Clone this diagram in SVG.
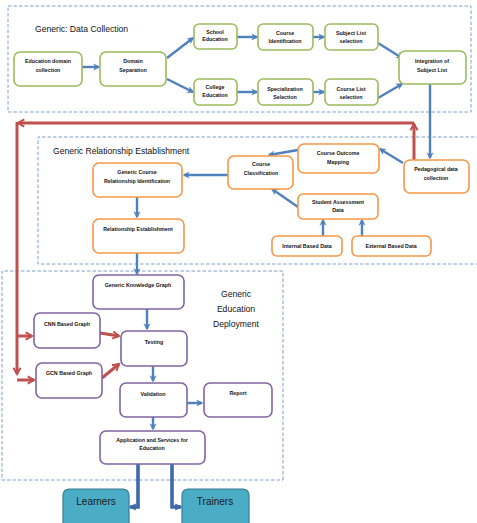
<svg xmlns="http://www.w3.org/2000/svg" width="477" height="523" viewBox="0 0 477 523">
<defs>
<style>
.bg{fill:#fff}
.dash{fill:none;stroke:#7fa0c9;stroke-width:1;stroke-dasharray:3.5,2}
.g{fill:#fff;stroke:#9bbb59;stroke-width:1.6}
.o{fill:#fff;stroke:#f79646;stroke-width:1.6}
.p{fill:#fff;stroke:#8064a2;stroke-width:1.6}
.t{fill:#4bacc6;stroke:#357d91;stroke-width:1.2}
.lbl{font-family:"Liberation Sans",Arial,sans-serif;font-size:5.3px;font-weight:bold;fill:#111;text-anchor:middle}
.title{font-family:"Liberation Sans",Arial,sans-serif;font-size:8.6px;fill:#111}
.big{font-family:"Liberation Sans",Arial,sans-serif;font-size:10px;fill:#1a1a1a;text-anchor:middle}
.b{fill:none;stroke:#4f81bd;stroke-width:2.4;marker-end:url(#ab)}
.r{fill:none;stroke:#c0504d;stroke-width:3;marker-end:url(#ar)}
.bt{fill:none;stroke:#3d6aa8;stroke-width:3.6;marker-end:url(#ab2)}
</style>
<marker id="ab" viewBox="0 0 10 10" refX="8" refY="5" markerWidth="3" markerHeight="3.2" orient="auto" markerUnits="strokeWidth">
<path d="M0,0 L10,5 L0,10 L3,5 z" fill="#4f81bd"/>
</marker>
<marker id="ab2" viewBox="0 0 10 10" refX="8" refY="5" markerWidth="2" markerHeight="2" orient="auto" markerUnits="strokeWidth">
<path d="M0,0 L10,5 L0,10 z" fill="#3d6aa8"/>
</marker>
<marker id="ar" viewBox="0 0 10 10" refX="8" refY="5" markerWidth="3" markerHeight="3.4" orient="auto" markerUnits="strokeWidth">
<path d="M1,1 L8,5 L1,9" fill="none" stroke="#c0504d" stroke-width="2.2"/>
</marker>
</defs>
<rect class="bg" x="0" y="0" width="477" height="523"/>

<g id="groups">
<rect class="dash" x="8" y="6" width="463" height="106"/>
<path class="dash" d="M480,137 H38 V264 H480"/>
<path class="dash" d="M283,480 V271 H2 V480 H283"/>
<text class="title" x="35" y="32">Generic: Data Collection</text>
<text class="title" x="53" y="154">Generic Relationship  Establishment</text>
<text class="title" x="236" y="297" text-anchor="middle">Generic</text>
<text class="title" x="236" y="312" text-anchor="middle">Education</text>
<text class="title" x="236" y="327" text-anchor="middle">Deployment</text>
</g>

<g id="connectors">
<path class="b" d="M82,67 H99"/>
<path class="b" d="M167,58 L193,38"/>
<path class="b" d="M167,79 L193,92"/>
<path class="b" d="M237,37 H257"/>
<path class="b" d="M313,37 H324"/>
<path class="b" d="M378,43 L402,58"/>
<path class="b" d="M237,92 H257"/>
<path class="b" d="M313,92 H324"/>
<path class="b" d="M378,98 L402,84"/>
<path class="b" d="M430,84 V158"/>
<path class="b" d="M403,163 L380,149"/>
<path class="b" d="M298,150 L269,155"/>
<path class="b" d="M298,207 L272,189"/>
<path class="b" d="M323,236 V220"/>
<path class="b" d="M362,236 V220"/>
<path class="b" d="M228,175 H184"/>
<path class="b" d="M137,197 V217"/>
<path class="b" d="M137,253 V274"/>
<path class="b" d="M147,309 V329"/>
<path class="b" d="M153,366 V381"/>
<path class="b" d="M187,403 H202"/>
<path class="b" d="M153,417 V429"/>
<path class="bt" d="M138,464 V507 H130"/>
<path class="bt" d="M172,464 V507 H181"/>
<path class="r" d="M414,160 V124"/>
<path class="r" d="M414,123 H18"/>
<path class="r" d="M17,122 V374"/>
<path class="r" d="M17,380 H34"/>
<path class="r" d="M17,336 H32"/>
<path class="r" d="M100,333 L119,336"/>
<path class="r" d="M102,378 L119,364"/>
</g>

<g id="n-edu-domain"><rect class="g" x="14" y="52" width="68" height="34" rx="6"/><text class="lbl" x="48" y="63">Education domain</text><text class="lbl" x="48" y="72">collection</text></g>
<g id="n-domain-sep"><rect class="g" x="100" y="52" width="66" height="34" rx="6"/><text class="lbl" x="133" y="63">Domain</text><text class="lbl" x="133" y="72">Separation</text></g>
<g id="n-school"><rect class="g" x="194" y="24" width="43" height="25" rx="5"/><text class="lbl" x="215" y="34">School</text><text class="lbl" x="215" y="41">Education</text></g>
<g id="n-course-id"><rect class="g" x="258" y="24" width="55" height="26" rx="5"/><text class="lbl" x="285" y="35">Course</text><text class="lbl" x="285" y="43">Identification</text></g>
<g id="n-subject-list"><rect class="g" x="325" y="24" width="53" height="26" rx="5"/><text class="lbl" x="351" y="35">Subject List</text><text class="lbl" x="351" y="43">selection</text></g>
<g id="n-college"><rect class="g" x="194" y="79" width="43" height="26" rx="5"/><text class="lbl" x="215" y="89">College</text><text class="lbl" x="215" y="97">Education</text></g>
<g id="n-spec"><rect class="g" x="258" y="79" width="55" height="26" rx="5"/><text class="lbl" x="285" y="91">Specialization</text><text class="lbl" x="285" y="99">Selection</text></g>
<g id="n-course-list"><rect class="g" x="325" y="79" width="53" height="26" rx="5"/><text class="lbl" x="351" y="91">Course List</text><text class="lbl" x="351" y="99">selection</text></g>
<g id="n-integration"><rect class="g" x="399" y="51" width="67" height="33" rx="6"/><text class="lbl" x="432" y="63">Integration of</text><text class="lbl" x="432" y="72">Subject List</text></g>

<g id="n-gcri"><rect class="o" x="93" y="163" width="89" height="34" rx="6"/><text class="lbl" x="137" y="174">Generic Course</text><text class="lbl" x="137" y="183">Relationship Identification</text></g>
<g id="n-rel-est"><rect class="o" x="93" y="219" width="91" height="34" rx="6"/><text class="lbl" x="138" y="231">Relationship Establishment</text></g>
<g id="n-course-class"><rect class="o" x="228" y="156" width="65" height="33" rx="6"/><text class="lbl" x="261" y="166">Course</text><text class="lbl" x="261" y="175">Classification</text></g>
<g id="n-outcome"><rect class="o" x="298" y="144" width="81" height="29" rx="6"/><text class="lbl" x="338" y="155">Course Outcome</text><text class="lbl" x="338" y="164">Mapping</text></g>
<g id="n-pedagogical"><rect class="o" x="404" y="160" width="65" height="33" rx="6"/><text class="lbl" x="436" y="171">Pedagogical data</text><text class="lbl" x="436" y="180">collection</text></g>
<g id="n-student"><rect class="o" x="298" y="194" width="80" height="25" rx="5"/><text class="lbl" x="338" y="204">Student Assessment</text><text class="lbl" x="338" y="212">Data</text></g>
<g id="n-internal"><rect class="o" x="272" y="236" width="70" height="20" rx="5"/><text class="lbl" x="307" y="248">Internal Based Data</text></g>
<g id="n-external"><rect class="o" x="352" y="236" width="79" height="20" rx="5"/><text class="lbl" x="391" y="248">External Based Data</text></g>

<g id="n-gkg"><rect class="p" x="93" y="275" width="91" height="34" rx="6"/><text class="lbl" x="138" y="287">Generic Knowledge Graph</text></g>
<g id="n-cnn"><rect class="p" x="34" y="313" width="66" height="35" rx="6"/><text class="lbl" x="67" y="326">CNN Based Graph</text></g>
<g id="n-testing"><rect class="p" x="121" y="331" width="66" height="35" rx="6"/><text class="lbl" x="154" y="344">Testing</text></g>
<g id="n-gcn"><rect class="p" x="36" y="363" width="66" height="35" rx="6"/><text class="lbl" x="69" y="375">GCN Based Graph</text></g>
<g id="n-validation"><rect class="p" x="120" y="383" width="67" height="34" rx="6"/><text class="lbl" x="153" y="396">Validation</text></g>
<g id="n-report"><rect class="p" x="204" y="383" width="68" height="34" rx="6"/><text class="lbl" x="238" y="395">Report</text></g>
<g id="n-app"><rect class="p" x="100" y="431" width="105" height="33" rx="6"/><text class="lbl" x="152" y="442">Application and Services for</text><text class="lbl" x="152" y="450">Education</text></g>

<g id="n-learners"><rect class="t" x="63" y="489" width="66" height="42" rx="6"/><text class="big" x="96" y="505">Learners</text></g>
<g id="n-trainers"><rect class="t" x="182" y="489" width="67" height="42" rx="6"/><text class="big" x="215" y="505">Trainers</text></g>
</svg>
